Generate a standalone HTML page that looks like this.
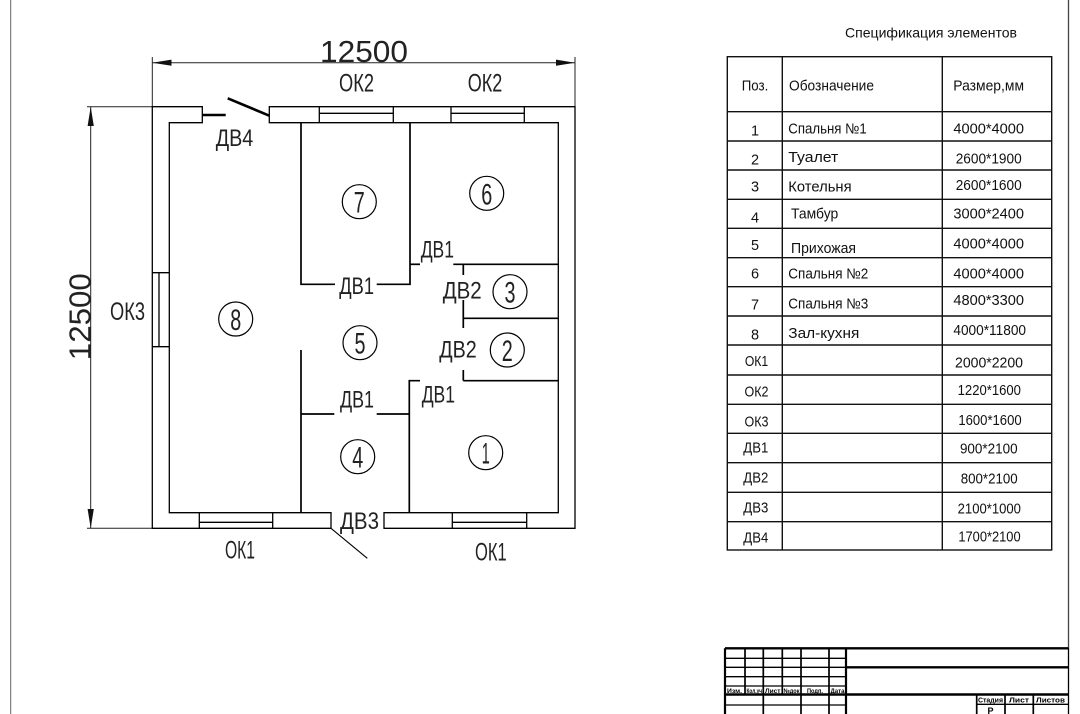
<!DOCTYPE html>
<html>
<head>
<meta charset="utf-8">
<style>
html,body{margin:0;padding:0;background:#fff;}
svg{display:block;}
text{font-family:"Liberation Sans","DejaVu Sans",sans-serif;}
</style>
</head>
<body>
<svg width="1080" height="714" viewBox="0 0 1080 714" xmlns="http://www.w3.org/2000/svg">
<rect width="1080" height="714" fill="#fff"/>

<!-- page frame -->
<line x1="10.7" y1="0" x2="10.7" y2="714" stroke="#666" stroke-width="1"/>
<line x1="1068.5" y1="0" x2="1068.5" y2="648" stroke="#444" stroke-width="1.3"/>

<!-- dimensions -->
<g stroke="#222" stroke-width="1" fill="none">
  <line x1="152.3" y1="62.7" x2="575" y2="62.7"/>
  <line x1="152.3" y1="57" x2="152.3" y2="106.7"/>
  <line x1="575" y1="57" x2="575" y2="106.7"/>
  <line x1="90.7" y1="106.7" x2="90.7" y2="528.3"/>
  <line x1="87" y1="106.7" x2="152.3" y2="106.7"/>
  <line x1="87" y1="528.3" x2="152.3" y2="528.3"/>
</g>
<g fill="#111">
  <polygon points="152.3,62.7 171.5,59.6 171.5,65.8"/>
  <polygon points="575,62.7 556,59.6 556,65.8"/>
  <polygon points="90.7,106.7 87.6,126 93.8,126"/>
  <polygon points="90.7,528.3 87.6,509 93.8,509"/>
</g>
<g fill="#222">
  <text x="320" y="62" font-size="31" textLength="88" lengthAdjust="spacingAndGlyphs">12500</text>
  <text transform="translate(90.3,316.7) rotate(-90)" x="-43.5" y="0" font-size="31" textLength="87" lengthAdjust="spacingAndGlyphs">12500</text>
</g>

<!-- outer walls -->
<g stroke="#000" stroke-width="1.3" fill="none">
  <path d="M202.3,106.7 H152.3 V528.3 H331 V512.7 H169.3 V122.7 H202.3 Z"/>
  <path d="M269.3,106.7 H575 V528.3 H384 V512.7 H558.3 V122.7 H269.3 Z"/>
  <!-- top windows -->
  <line x1="319.3" y1="106.7" x2="319.3" y2="122.7"/>
  <line x1="393.3" y1="106.7" x2="393.3" y2="122.7"/>
  <line x1="319.3" y1="113.3" x2="393.3" y2="113.3"/>
  <line x1="451" y1="106.7" x2="451" y2="122.7"/>
  <line x1="524.3" y1="106.7" x2="524.3" y2="122.7"/>
  <line x1="451" y1="113.3" x2="524.3" y2="113.3"/>
  <!-- left window -->
  <line x1="152.3" y1="272.7" x2="169.3" y2="272.7"/>
  <line x1="152.3" y1="346.7" x2="169.3" y2="346.7"/>
  <line x1="159" y1="272.7" x2="159" y2="346.7"/>
  <!-- bottom windows -->
  <line x1="199.3" y1="512.7" x2="199.3" y2="528.3"/>
  <line x1="272.7" y1="512.7" x2="272.7" y2="528.3"/>
  <line x1="199.3" y1="522.3" x2="272.7" y2="522.3"/>
  <line x1="452.3" y1="512.7" x2="452.3" y2="528.3"/>
  <line x1="526.7" y1="512.7" x2="526.7" y2="528.3"/>
  <line x1="452.3" y1="522.3" x2="526.7" y2="522.3"/>
  <!-- DV3 leaf -->
  <line x1="331" y1="528.3" x2="367.3" y2="558.3" stroke-width="1.1"/>
</g>
<!-- DV4 door -->
<g stroke="#000" stroke-width="2.6">
  <line x1="227.7" y1="98.3" x2="269.3" y2="115.7"/>
  <line x1="202.3" y1="115" x2="225.7" y2="115"/>
</g>

<!-- interior walls -->
<g stroke="#000" stroke-width="1.7" fill="none">
  <path d="M301,122.7 V284.3 H335"/>
  <path d="M376.7,284.3 H410 V122.7"/>
  <path d="M410,264.3 H420"/>
  <path d="M453.3,264.3 H558.3"/>
  <path d="M463.3,264.3 V275"/>
  <path d="M463.3,318.3 H558.3"/>
  <path d="M463.3,300 V328"/>
  <path d="M463.3,380.7 H558.3"/>
  <path d="M463.3,370 V380.7"/>
  <path d="M420,380.7 H409.3 V512.7"/>
  <path d="M301,350 V512.7"/>
  <path d="M301,414 H334.3"/>
  <path d="M376.7,414 H409.3"/>
</g>

<!-- room circles -->
<g stroke="#000" stroke-width="1.2" fill="none">
  <circle cx="359.3" cy="201.7" r="17"/>
  <circle cx="486.7" cy="193.3" r="17"/>
  <circle cx="510" cy="291.7" r="17"/>
  <circle cx="507.3" cy="350" r="17"/>
  <circle cx="360" cy="342.7" r="17"/>
  <circle cx="357.7" cy="456.7" r="17"/>
  <circle cx="485.7" cy="452.7" r="17"/>
  <circle cx="235.7" cy="319" r="17"/>
</g>
<g fill="#222" font-size="30" text-anchor="middle">
  <text x="359.3" y="212.7" textLength="11" lengthAdjust="spacingAndGlyphs">7</text>
  <text x="486.7" y="204.3" textLength="11" lengthAdjust="spacingAndGlyphs">6</text>
  <text x="510" y="302.7" textLength="11" lengthAdjust="spacingAndGlyphs">3</text>
  <text x="507.3" y="361" textLength="11" lengthAdjust="spacingAndGlyphs">2</text>
  <text x="360" y="353.7" textLength="11" lengthAdjust="spacingAndGlyphs">5</text>
  <text x="357.7" y="467.7" textLength="11" lengthAdjust="spacingAndGlyphs">4</text>
  <text x="485.7" y="463.7" textLength="8" lengthAdjust="spacingAndGlyphs">1</text>
  <text x="235.7" y="330" textLength="11" lengthAdjust="spacingAndGlyphs">8</text>
</g>

<!-- plan labels -->
<g fill="#222">
  <text x="339" y="91.7" font-size="25" textLength="35" lengthAdjust="spacingAndGlyphs">ОК2</text>
  <text x="467.7" y="91.7" font-size="25" textLength="34.6" lengthAdjust="spacingAndGlyphs">ОК2</text>
  <text x="215.7" y="146" font-size="24" textLength="37.6" lengthAdjust="spacingAndGlyphs">ДВ4</text>
  <text x="420.7" y="257.5" font-size="24" textLength="33.3" lengthAdjust="spacingAndGlyphs">ДВ1</text>
  <text x="339.3" y="294" font-size="24" textLength="34.7" lengthAdjust="spacingAndGlyphs">ДВ1</text>
  <text x="442.7" y="298.5" font-size="24" textLength="39" lengthAdjust="spacingAndGlyphs">ДВ2</text>
  <text x="439.3" y="357.5" font-size="24" textLength="37.4" lengthAdjust="spacingAndGlyphs">ДВ2</text>
  <text x="340" y="407.5" font-size="24" textLength="34" lengthAdjust="spacingAndGlyphs">ДВ1</text>
  <text x="421.7" y="402.5" font-size="24" textLength="33.3" lengthAdjust="spacingAndGlyphs">ДВ1</text>
  <text x="340" y="529" font-size="24" textLength="39" lengthAdjust="spacingAndGlyphs">ДВ3</text>
  <text x="110" y="320" font-size="25" textLength="35" lengthAdjust="spacingAndGlyphs">ОК3</text>
  <text x="225" y="558.3" font-size="25" textLength="30" lengthAdjust="spacingAndGlyphs">ОК1</text>
  <text x="475" y="560.5" font-size="25" textLength="31.7" lengthAdjust="spacingAndGlyphs">ОК1</text>
</g>

<!-- specification table -->
<text x="845" y="37.5" font-size="14" fill="#111" textLength="172" lengthAdjust="spacingAndGlyphs">Спецификация элементов</text>
<g stroke="#111" stroke-width="1.4" fill="none">
  <rect x="727.3" y="56.7" width="324.4" height="493.3"/>
  <line x1="782.3" y1="56.7" x2="782.3" y2="550"/>
  <line x1="942.3" y1="56.7" x2="942.3" y2="550"/>
  <line x1="727.3" y1="111.7" x2="1051.7" y2="111.7"/>
  <line x1="727.3" y1="141" x2="1051.7" y2="141"/>
  <line x1="727.3" y1="170" x2="1051.7" y2="170"/>
  <line x1="727.3" y1="199.3" x2="1051.7" y2="199.3"/>
  <line x1="727.3" y1="228.3" x2="1051.7" y2="228.3"/>
  <line x1="727.3" y1="257.7" x2="1051.7" y2="257.7"/>
  <line x1="727.3" y1="286.7" x2="1051.7" y2="286.7"/>
  <line x1="727.3" y1="316" x2="1051.7" y2="316"/>
  <line x1="727.3" y1="345" x2="1051.7" y2="345"/>
  <line x1="727.3" y1="375" x2="1051.7" y2="375"/>
  <line x1="727.3" y1="404.3" x2="1051.7" y2="404.3"/>
  <line x1="727.3" y1="433.3" x2="1051.7" y2="433.3"/>
  <line x1="727.3" y1="462.7" x2="1051.7" y2="462.7"/>
  <line x1="727.3" y1="492.3" x2="1051.7" y2="492.3"/>
  <line x1="727.3" y1="521.7" x2="1051.7" y2="521.7"/>
</g>
<g fill="#111" font-size="14.5">
  <!-- header -->
  <text x="741.7" y="90.3" textLength="26.6" lengthAdjust="spacingAndGlyphs">Поз.</text>
  <text x="789" y="90.3" textLength="85" lengthAdjust="spacingAndGlyphs">Обозначение</text>
  <text x="953.3" y="90.3" textLength="70.7" lengthAdjust="spacingAndGlyphs">Размер,мм</text>
</g>
<g fill="#111" font-size="14.5" text-anchor="middle">
  <text x="755" y="135.5">1</text>
  <text x="755" y="164.5">2</text>
  <text x="755" y="191.7">3</text>
  <text x="755" y="222.5">4</text>
  <text x="755" y="250">5</text>
  <text x="755" y="278.3">6</text>
  <text x="755" y="309.5">7</text>
  <text x="755" y="339.5">8</text>
  <text x="756.5" y="366" textLength="23.3" lengthAdjust="spacingAndGlyphs">ОК1</text>
  <text x="756.5" y="396.7" textLength="24" lengthAdjust="spacingAndGlyphs">ОК2</text>
  <text x="756.5" y="426.7" textLength="24" lengthAdjust="spacingAndGlyphs">ОК3</text>
  <text x="755.8" y="452.5" textLength="25" lengthAdjust="spacingAndGlyphs">ДВ1</text>
  <text x="755.8" y="482.5" textLength="25" lengthAdjust="spacingAndGlyphs">ДВ2</text>
  <text x="755.8" y="512.5" textLength="25" lengthAdjust="spacingAndGlyphs">ДВ3</text>
  <text x="755.8" y="542.5" textLength="25" lengthAdjust="spacingAndGlyphs">ДВ4</text>

  <text x="988.7" y="133.3" textLength="70.7" lengthAdjust="spacingAndGlyphs">4000*4000</text>
  <text x="988.7" y="163.3" textLength="66" lengthAdjust="spacingAndGlyphs">2600*1900</text>
  <text x="988.7" y="190" textLength="66" lengthAdjust="spacingAndGlyphs">2600*1600</text>
  <text x="988.7" y="218.3" textLength="70.7" lengthAdjust="spacingAndGlyphs">3000*2400</text>
  <text x="988.7" y="248.3" textLength="70.7" lengthAdjust="spacingAndGlyphs">4000*4000</text>
  <text x="988.7" y="278.3" textLength="70.7" lengthAdjust="spacingAndGlyphs">4000*4000</text>
  <text x="988.7" y="305" textLength="70.7" lengthAdjust="spacingAndGlyphs">4800*3300</text>
  <text x="989.7" y="335" textLength="72.7" lengthAdjust="spacingAndGlyphs">4000*11800</text>
  <text x="989" y="367.3" textLength="68" lengthAdjust="spacingAndGlyphs">2000*2200</text>
  <text x="989.3" y="395" textLength="63.3" lengthAdjust="spacingAndGlyphs">1220*1600</text>
  <text x="990" y="425" textLength="63.3" lengthAdjust="spacingAndGlyphs">1600*1600</text>
  <text x="988.8" y="453.3" textLength="57.7" lengthAdjust="spacingAndGlyphs">900*2100</text>
  <text x="989.2" y="483.3" textLength="57" lengthAdjust="spacingAndGlyphs">800*2100</text>
  <text x="989.3" y="513.3" textLength="63.3" lengthAdjust="spacingAndGlyphs">2100*1000</text>
  <text x="989.5" y="541.7" textLength="62.3" lengthAdjust="spacingAndGlyphs">1700*2100</text>
</g>
<g fill="#111" font-size="14.5">
  <text x="788.3" y="133.3" textLength="78.4" lengthAdjust="spacingAndGlyphs">Спальня №1</text>
  <text x="788.3" y="162" textLength="50" lengthAdjust="spacingAndGlyphs">Туалет</text>
  <text x="788.3" y="191.7" textLength="63.3" lengthAdjust="spacingAndGlyphs">Котельня</text>
  <text x="791" y="218.5" textLength="47.3" lengthAdjust="spacingAndGlyphs">Тамбур</text>
  <text x="791" y="253" textLength="65" lengthAdjust="spacingAndGlyphs">Прихожая</text>
  <text x="788.3" y="278.3" textLength="80" lengthAdjust="spacingAndGlyphs">Спальня №2</text>
  <text x="788.3" y="308.3" textLength="80" lengthAdjust="spacingAndGlyphs">Спальня №3</text>
  <text x="788.3" y="338" textLength="71" lengthAdjust="spacingAndGlyphs">Зал-кухня</text>
</g>

<!-- title block -->
<g stroke="#000" fill="none">
  <line x1="725" y1="648.3" x2="1068.5" y2="648.3" stroke-width="2.4"/>
  <line x1="725" y1="648.3" x2="725" y2="714" stroke-width="2.2"/>
  <line x1="846" y1="648.3" x2="846" y2="714" stroke-width="2.2"/>
  <line x1="1068.5" y1="648" x2="1068.5" y2="714" stroke-width="1.3"/>
  <line x1="745" y1="648.3" x2="745" y2="694.5" stroke-width="1.7"/>
  <line x1="782.3" y1="648.3" x2="782.3" y2="694.5" stroke-width="1.7"/>
  <line x1="763.3" y1="648.3" x2="763.3" y2="714" stroke-width="1.7"/>
  <line x1="801" y1="648.3" x2="801" y2="714" stroke-width="1.7"/>
  <line x1="829" y1="648.3" x2="829" y2="714" stroke-width="1.7"/>
  <line x1="725" y1="658.3" x2="846" y2="658.3" stroke-width="1.3"/>
  <line x1="725" y1="667.3" x2="846" y2="667.3" stroke-width="1.3"/>
  <line x1="846" y1="667.3" x2="1068.5" y2="667.3" stroke-width="2.4"/>
  <line x1="725" y1="676.7" x2="846" y2="676.7" stroke-width="1.3"/>
  <line x1="725" y1="686" x2="846" y2="686" stroke-width="1.3"/>
  <line x1="725" y1="694.5" x2="1068.5" y2="694.5" stroke-width="2.4"/>
  <line x1="725" y1="705" x2="846" y2="705" stroke-width="1.3"/>
  <line x1="976.7" y1="694.5" x2="976.7" y2="714" stroke-width="1.7"/>
  <line x1="1005" y1="694.5" x2="1005" y2="714" stroke-width="1.7"/>
  <line x1="1033.3" y1="694.5" x2="1033.3" y2="714" stroke-width="1.7"/>
  <line x1="976.7" y1="704.3" x2="1068.5" y2="704.3" stroke-width="1.4"/>
</g>
<g fill="#000" font-size="6.5" font-weight="bold">
  <text x="727" y="692.8" textLength="15" lengthAdjust="spacingAndGlyphs">Изм.</text>
  <text x="746.5" y="692.8" textLength="15.5" lengthAdjust="spacingAndGlyphs">Кол.уч</text>
  <text x="765" y="692.8" textLength="15.5" lengthAdjust="spacingAndGlyphs">Лист</text>
  <text x="783.5" y="692.8" textLength="16" lengthAdjust="spacingAndGlyphs">№док</text>
  <text x="807" y="692.8" textLength="16" lengthAdjust="spacingAndGlyphs">Подп.</text>
  <text x="830.5" y="692.8" textLength="14" lengthAdjust="spacingAndGlyphs">Дата</text>
  <text x="978" y="702.5" font-size="7" textLength="25" lengthAdjust="spacingAndGlyphs">Стадия</text>
  <text x="1009" y="702.5" font-size="7" textLength="20" lengthAdjust="spacingAndGlyphs">Лист</text>
  <text x="1036" y="702.5" font-size="7" textLength="29" lengthAdjust="spacingAndGlyphs">Листов</text>
  <text x="987.5" y="714" font-size="9">Р</text>
</g>
</svg>
</body>
</html>
